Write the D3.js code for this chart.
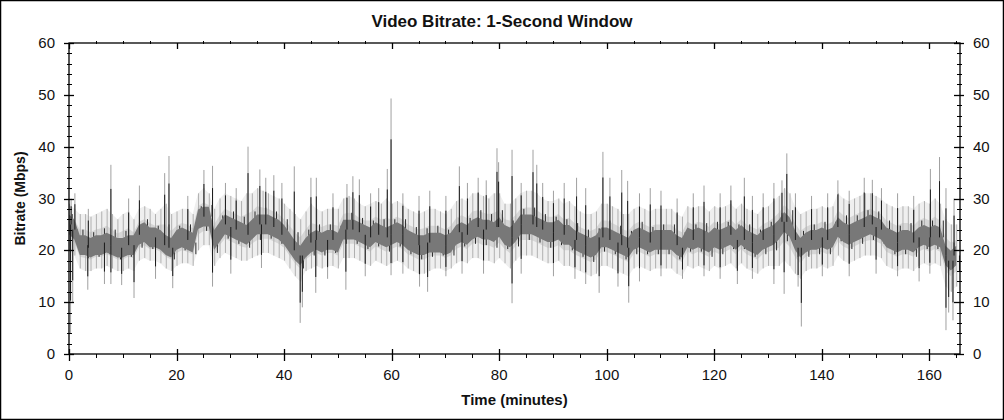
<!DOCTYPE html>
<html><head><meta charset="utf-8">
<script src="https://cdn.jsdelivr.net/npm/d3@7"></script>
<style>
html,body{margin:0;padding:0;background:#fff;}
svg{display:block;font-family:"Liberation Sans",Arial,sans-serif;}
</style></head>
<body><svg id="c" width="1004" height="420"></svg>
<script>
// ---- data (Mbps per minute) ----
const minutes = d3.range(0, 166);
const coreMid = [25,24,21,21,20.5,21,21,21.5,21,20.5,
 20.5,21,21,23,23.5,22.5,22.5,22,21,20.5,
 22,22.5,22,21.5,26,26.5,26.5,22,23.5,25,
 24.5,24,23.5,23,24,25,25,25,24.5,24,
 23,21.5,20,19,20.5,21.5,22,21.5,22,22,
 21.5,24,24,24,23.5,23,22.5,23.5,23,22.5,
 23,23.5,23,22,21.5,21,21,21.5,21.5,21.5,
 21,21.5,23,23.5,23,24,24.5,24,24,23.5,
 24.5,23,22.5,23.5,25,25,25,24.5,24,23.5,
 23.5,24,23,23,22,21.5,21,20.5,21,22.5,
 22.5,22,21.5,21,20.5,22,22.5,22,21.5,22,
 22,22,22,21,20.5,22.5,22,22.5,22,21.5,
 22.5,22,22.5,23,22,23,22,21.5,21,22,
 22.5,23,24,25.5,24.5,22,20.5,21.5,22,22,
 22.5,22,22.5,24.5,23.5,23,23.5,24,24.5,25,
 24.5,24,22.5,22,21.5,22,22,21.5,22.5,23,
 22.5,23,22.5,19,18,19];
const envHi = [29,28,27,27,26.5,27,27.5,28,27,26,
 27,27.5,26,28,28.5,28,27,28,29,27,
 27.5,28,28,27,31,32,31,28,30,31,
 30.5,30,29.5,31,31,32,31.5,31,30.5,30,
 29,28,27,26,27.5,29,28,27.5,28,28,
 28,30,30.5,30,29,28.5,29,29.5,29,30,
 29,29.5,29,28,27.5,27,27.5,28,28,27.5,
 27,28,29.5,30,29.5,31,31,30.5,30,31,
 31,29,29,30,31,31.5,31.5,31,30,29.5,
 29.5,30,29,29.5,28.5,27.5,27,27,27.5,29,
 29,28.5,28,27,27,28,28.5,28,27.5,28,
 28,28,28,27,26.5,28.5,28,28.5,28.5,27.5,
 28.5,28,28.5,29,28,29,28,27.5,27,28,
 28.5,29.5,30.5,32,31,28.5,27,27.5,28,28,
 28.5,28,28.5,31,30,29.5,30,30.5,31,31,
 30.5,30,29,28.5,28,28.5,28.5,28,29,29.5,
 29,30,29,26,25,25];
const envLo = [20,19,16.5,16,16,16.5,16.5,17,16.5,16,
 16,16.5,16,18,18.5,18,18,17.5,16.5,16,
 17,17.5,17.5,17,20,21,21,17,18.5,19.5,
 19,18.5,18,18,18.5,19,19.5,19.5,19,18.5,
 18,16.5,15,14,16,16.5,17,16.5,17,17,
 16.5,18.5,18.5,18.5,18,17.5,17,18,17.5,17,
 17.5,18,17.5,16.5,16,15.5,15.5,16,16.5,16.5,
 16,16.5,17.5,18,17.5,18.5,18.5,18,18,17.5,
 18.5,17.5,16.5,18,19,19,19,18.5,18,17.5,
 17.5,18,17,17,16.5,16,15.5,15,15.5,17,
 17,16.5,16,15.5,15,16.5,17,16.5,16,16.5,
 16.5,16.5,16.5,15.5,15,17,16.5,17,16.5,16,
 17,16.5,17,17.5,16.5,17.5,16.5,16,15.5,16.5,
 17,17,17,18,17,15.5,14.5,16,16.5,16.5,
 17,16.5,17,19,18,17.5,18,18.5,19,19,
 19,18.5,17,16.5,16,16.5,16.5,16,17,17.5,
 17,17.5,17,13,12,13];
// tall spikes [minute, Mbps]
const spikesUp = [[0.3,30],[1,31],[3.5,28],[7.7,36.5],[11,30],[13,32.5],[17.7,34.9],[18.5,38.2],[22,30.5],
 [25,35.5],[26.6,36.3],[29,33],[31,32],[33.2,40],[35.4,35.6],[36.5,34],[38,34.5],[39.5,33],[41.8,36.2],
 [44.9,34],[45.9,34],[49,31],[51.6,32.8],[52.7,34.3],[53.9,33.7],[56,31],[57.5,32],[59.1,35.7],[59.8,49.3],
 [62,31],[65,30.5],[67,31.5],[70,30.5],[72.5,36.2],[74,33],[76,34],[77.5,33.5],[79.5,39.7],[79.8,37],
 [82.3,39.4],[84,33],[86.2,39.4],[86.9,36.5],[88,33],[90,31.5],[92,33],[94.3,34],[96,32],[99.2,39],
 [100.5,34],[102.7,35.5],[103.8,33.4],[106,31],[108,32],[110,31.5],[113,30],[116,31],[118,32.5],[121,31],
 [123,32.5],[125.5,34],[127,30.5],[129,31],[131,33],[132.5,33.5],[133.4,38.7],[135,31],[138,30.5],[141,31],
 [142.9,33.5],[145,31.5],[147.8,34],[149.3,33.6],[151,32],[154,31],[157,30.5],[160.1,35.7],[161.8,38],
 [163,32],[164.5,30]];
const spikesDown = [[0.2,4],[0.6,10],[3.4,12.4],[6.5,13.5],[7.7,13.5],[9.7,13.3],[12,10.8],[16,14.5],
 [19.2,12.7],[26.6,13],[30,15.5],[35.7,16.6],[42.9,6],[43.3,9],[45.8,11.8],[48,14.5],[51.4,12.4],[55,15],
 [59.8,15.2],[62,15.5],[65.1,13],[66.6,12],[70,15],[73,15.5],[77,15.5],[82.3,9.8],[84,15.5],[90,15],
 [94,14.5],[96,13.5],[98.5,11.8],[102,13],[104,9.9],[106,14],[110,15],[114,14.5],[118,15],[121,14.5],
 [124.2,13.5],[127,14.5],[131,13.5],[132.9,11.6],[135.5,13],[136.1,5.3],[140,15],[145,15],[150,15.5],
 [154,15],[158,14],[160,15.5],[163,4.6],[163.5,8],[164.3,6.5]];
const xTicks = [0,20,40,60,80,100,120,140,160];
const yTicks = [0,10,20,30,40,50,60];
const title = "Video Bitrate: 1-Second Window";
const xLabel = "Time (minutes)";
const yLabel = "Bitrate (Mbps)";

// ---- drawing ----
const svg = d3.select("#c");
const L=69, R=960, T=43, B=354;
const x = d3.scaleLinear().domain([0,165.7]).range([L,R]);
const y = d3.scaleLinear().domain([0,60]).range([B,T]);
const midAt = t => coreMid[Math.max(0, Math.min(165, Math.round(t)))];

svg.append("rect").attr("x",0.5).attr("y",0.5).attr("width",1003).attr("height",419)
  .attr("fill","#fff").attr("stroke","#000").attr("stroke-width",1.5);

const g = svg.append("g");
// light envelope
g.append("path").datum(minutes)
  .attr("d", d3.area().x(d=>x(d)).y0(d=>y(envLo[d])).y1(d=>y(envHi[d])))
  .attr("fill","#efefef");
// medium envelope near core
g.append("path").datum(minutes)
  .attr("d", d3.area().x(d=>x(d)).y0(d=>y((envLo[d]+coreMid[d])/2)).y1(d=>y((envHi[d]+coreMid[d])/2)))
  .attr("fill","#d6d6d6");
// per-minute whiskers
g.selectAll("line.wh").data(minutes).join("line").attr("class","wh")
  .attr("x1",d=>x(d)+0.5).attr("x2",d=>x(d)+0.5)
  .attr("y1",d=>y(envLo[d])).attr("y2",d=>y(envHi[d]))
  .attr("stroke","#b0b0b0").attr("stroke-width",1);
g.selectAll("line.wh2").data(minutes).join("line").attr("class","wh2")
  .attr("x1",d=>x(d+0.5)+0.5).attr("x2",d=>x(d+0.5)+0.5)
  .attr("y1",d=>y(d%2 ? (envLo[d]+coreMid[d])/2 : coreMid[d]))
  .attr("y2",d=>y(d%2 ? coreMid[d] : (envHi[d]+coreMid[d])/2))
  .attr("stroke","#2a2a2a").attr("stroke-width",1);
// tall spikes (gray tips)
const allSpikes = spikesUp.concat(spikesDown);
g.selectAll("line.sp").data(allSpikes).join("line").attr("class","sp")
  .attr("x1",d=>x(d[0])+0.5).attr("x2",d=>x(d[0])+0.5)
  .attr("y1",d=>y(midAt(d[0]))).attr("y2",d=>y(d[1]))
  .attr("stroke","#a0a0a0").attr("stroke-width",1);
// core band
g.append("path").datum(minutes)
  .attr("d", d3.area().x(d=>x(d)).y0(d=>y(coreMid[d]-1.9)).y1(d=>y(coreMid[d]+1.9)))
  .attr("fill","#787878");
// dark spike bodies
g.selectAll("line.spd").data(allSpikes).join("line").attr("class","spd")
  .attr("x1",d=>x(d[0])+0.5).attr("x2",d=>x(d[0])+0.5)
  .attr("y1",d=>y(midAt(d[0]))).attr("y2",d=>y(midAt(d[0]) + (d[1]-midAt(d[0]))*0.7))
  .attr("stroke","#1a1a1a").attr("stroke-width",1);

// axes
const ax = svg.append("g").attr("stroke","#000").attr("fill","none");
ax.append("rect").attr("x",L).attr("y",T).attr("width",R-L).attr("height",B-T).attr("stroke-width",1.3);
const xMinor = d3.range(0,166,5).filter(v=>v%20!==0);
const yMinor = d3.range(0,61,2).filter(v=>v%10!==0);
function tk(x1,y1,x2,y2,w){ax.append("line").attr("x1",x1).attr("y1",y1).attr("x2",x2).attr("y2",y2).attr("stroke-width",w||1);}
xTicks.forEach(v=>{const px=Math.round(x(v))+0.5; tk(px,B-5,px,B+7,1.3); tk(px,T,px,T+6,1.3);});
xMinor.forEach(v=>{const px=Math.round(x(v))+0.5; tk(px,B,px,B+4); tk(px,T-2,px,T+1);});
yTicks.forEach(v=>{const py=Math.round(y(v))+0.5; tk(L-5,py,L+5,py,1.3); tk(R-6,py,R+4,py,1.3);});
yMinor.forEach(v=>{const py=Math.round(y(v))+0.5; tk(L-2,py,L+3,py); tk(R-3,py,R+2,py);});

const tx = svg.append("g").attr("fill","#111").attr("font-size",15);
xTicks.forEach(v=>tx.append("text").attr("x",x(v)).attr("y",380).attr("text-anchor","middle").text(v));
yTicks.forEach(v=>{
  tx.append("text").attr("x",55).attr("y",y(v)+5).attr("text-anchor","end").text(v);
  tx.append("text").attr("x",973).attr("y",y(v)+5).attr("text-anchor","start").text(v);
});
svg.append("text").attr("x",502).attr("y",27).attr("text-anchor","middle")
  .attr("font-weight","bold").attr("font-size",17).attr("fill","#111").text(title);
svg.append("text").attr("x",(L+R)/2).attr("y",405).attr("text-anchor","middle")
  .attr("font-weight","bold").attr("font-size",15).attr("fill","#111").text(xLabel);
svg.append("text").attr("transform",`translate(25,${(T+B)/2}) rotate(-90)`).attr("text-anchor","middle")
  .attr("font-weight","bold").attr("font-size",14).attr("fill","#111").text(yLabel);
</script></body></html>
